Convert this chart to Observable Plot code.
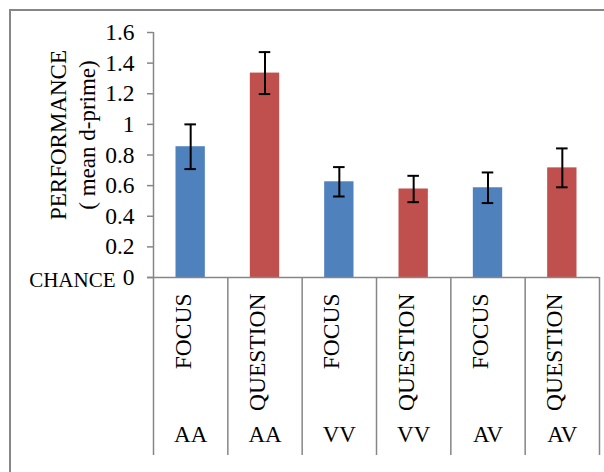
<!DOCTYPE html>
<html><head><meta charset="utf-8">
<script src="https://cdn.jsdelivr.net/npm/d3@7"></script>
<script src="https://cdn.jsdelivr.net/npm/@observablehq/plot@0.6"></script>
<style>
body{margin:0;background:#fff;}
#wrap{position:relative;width:604px;height:472px;overflow:hidden;}
#border{position:absolute;left:9px;top:9px;width:700px;height:600px;border-top:2px solid #868686;border-left:2px solid #868686;pointer-events:none;z-index:2;}
</style></head><body><div id="wrap"><div id="border"></div></div>
<script>
const groups = ["AA", "AA", "VV", "VV", "AV", "AV"];
const conditions = ["FOCUS", "QUESTION", "FOCUS", "QUESTION", "FOCUS", "QUESTION"];
const means = [0.854, 1.335, 0.625, 0.578, 0.586, 0.716];
const errors = [0.146, 0.137, 0.096, 0.086, 0.100, 0.127];
const yTicks = [0, 0.2, 0.4, 0.6, 0.8, 1, 1.2, 1.4, 1.6];
const yTitle = "PERFORMANCE\n( mean d-prime)";
const chanceLabel = "CHANCE";
const condColors = ["#4F81BD", "#C0504D"];

const data = conditions.map((c, i) => ({
  i, cond: c, group: groups[i], mean: means[i],
  lo: means[i] - errors[i], hi: means[i] + errors[i]
}));
const fmt = d => String(+d.toFixed(1));

const chart = Plot.plot({
  width: 604, height: 472,
  marginLeft: 153, marginRight: 5, marginTop: 32, marginBottom: 195,
  style: {fontFamily: "Liberation Serif", fontSize: "22px", color: "black", background: "white"},
  x: {type: "linear", domain: [0, 6]},
  y: {domain: [0, 1.6]},
  color: {domain: ["FOCUS", "QUESTION"], range: condColors},
  marks: [
    Plot.axisY({ticks: yTicks, tickSize: 6, tickFormat: () => "", stroke: "#868686", strokeWidth: 1.5, label: null}),
    Plot.text(yTicks, {y: d => d, text: fmt, frameAnchor: "left", textAnchor: "end", dx: -19, fontSize: 23.5}),
    Plot.ruleX([0], {stroke: "#868686", strokeWidth: 1.5}),
    Plot.rectY(data, {x1: "i", x2: d => d.i + 1, y: "mean", fill: "cond", insetLeft: 22.5, insetRight: 22.5}),
    Plot.ruleX(data, {x: d => d.i + 0.5, y1: "lo", y2: "hi", stroke: "black", strokeWidth: 2}),
    Plot.ruleY(data, {y: "lo", x1: "i", x2: d => d.i + 1, insetLeft: 31.4, insetRight: 31.4, stroke: "black", strokeWidth: 2}),
    Plot.ruleY(data, {y: "hi", x1: "i", x2: d => d.i + 1, insetLeft: 31.4, insetRight: 31.4, stroke: "black", strokeWidth: 2}),
    Plot.ruleY([0], {stroke: "#868686", strokeWidth: 1.5, insetLeft: -6}),
    Plot.axisX({ticks: d3.range(7), tickSize: 178, tickFormat: () => "", stroke: "#868686", strokeWidth: 1.5, label: null}),
    Plot.text(data, {x: d => d.i + 0.5, text: "cond", frameAnchor: "bottom", rotate: -90, textAnchor: "end", dy: 16, fontSize: 23.5}),
    Plot.text(data, {x: d => d.i + 0.5, text: "group", frameAnchor: "bottom", dy: 164, fontSize: 23}),
    Plot.text([yTitle], {text: d => d, frameAnchor: "left", rotate: -90, textAnchor: "middle", dx: -82, dy: -20, lineHeight: 1.25, fontSize: 23}),
    Plot.text([chanceLabel], {text: d => d, frameAnchor: "bottom-left", textAnchor: "end", dx: -38, dy: 9, fontSize: 21})
  ]
});
document.getElementById("wrap").appendChild(chart);
</script>
</body></html>
